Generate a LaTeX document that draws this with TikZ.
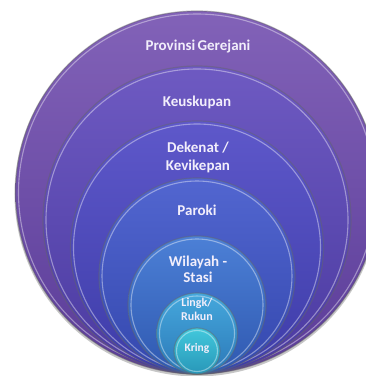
\documentclass[tikz,border=0pt]{standalone}
\usepackage{fontspec}
\setmainfont{Carlito}
\definecolor{aT}{HTML}{8262B8}\definecolor{aB}{HTML}{5A3C98}
\definecolor{bT}{HTML}{6E5AC2}\definecolor{bB}{HTML}{4A3AA0}
\definecolor{cT}{HTML}{5E58CA}\definecolor{cB}{HTML}{3D3CA8}
\definecolor{dT}{HTML}{5266D0}\definecolor{dB}{HTML}{3448AE}
\definecolor{eT}{HTML}{4C80D6}\definecolor{eB}{HTML}{2F58B0}
\definecolor{fT}{HTML}{45A8DC}\definecolor{fB}{HTML}{2C78B8}
\definecolor{gT}{HTML}{42C8DC}\definecolor{gB}{HTML}{2896B8}
\definecolor{txt}{HTML}{F2EEFB}
\tikzset{
  disk/.style={circle, inner sep=0pt, outer sep=0pt, minimum size=#1,
    draw=black!60, draw opacity=0.45, line width=1.2pt},
  lbl/.style={text=txt, font=\bfseries\fontsize{15}{18}\selectfont, align=center, inner sep=0pt},
  lblsmall/.style={text=txt, font=\bfseries\fontsize{12}{14}\selectfont, align=center, inner sep=0pt},
  rim/.style={draw=white, draw opacity=0.4, line width=1.1pt}
}
\begin{document}
\begin{tikzpicture}[x=1pt,y=1pt]
\useasboundingbox (0,0) rectangle (366,376);
\begin{scope}
\clip (0,0) rectangle (366,376);
\fill[black, opacity=0.22] (197,182) circle[radius=182.5];
\node[disk=363pt, top color=aT, bottom color=aB] (c1) at (197,183.5) {};
\draw[rim] (c1.center) circle[radius=178.5];
\node[disk=308pt, top color=bT, bottom color=bB] (c2) at (197,156) {};
\draw[rim] (c2.center) circle[radius=151];
\node[disk=253pt, top color=cT, bottom color=cB] (c3) at (197,128.5) {};
\draw[rim] (c3.center) circle[radius=123.5];
\node[disk=196pt, top color=dT, bottom color=dB] (c4) at (197,100) {};
\draw[rim] (c4.center) circle[radius=95];
\node[disk=138pt, top color=eT, bottom color=eB] (c5) at (197,71) {};
\draw[rim] (c5.center) circle[radius=66];
\node[disk=81pt, top color=fT, bottom color=fB] (c6) at (197,42.5) {};
\draw[rim] (c6.center) circle[radius=37.5];
\node[disk=46pt, top color=gT, bottom color=gB] (c7) at (197,25) {};
\draw[rim] (c7.center) circle[radius=20.5];
\end{scope}
\node[lbl] (t1) at (198,329) {Provinsi\hspace{-1pt} Gerejani};
\node[lbl] (t2) at (197,274) {Keuskupan};
\node[lbl] (t3) at (198,219) {Dekenat /\\Kevikepan};
\node[lbl] (t4) at (197,166) {Paroki};
\node[lbl, font=\bfseries\fontsize{15}{16}\selectfont] (t5) at (198,107) {Wilayah -\\Stasi};
\node[lblsmall] (t6) at (197,67) {Lingk/\\Rukun};
\node[lblsmall, font=\bfseries\fontsize{11.5}{13}\selectfont] (t7) at (197,28) {Kring};
\end{tikzpicture}
\end{document}
